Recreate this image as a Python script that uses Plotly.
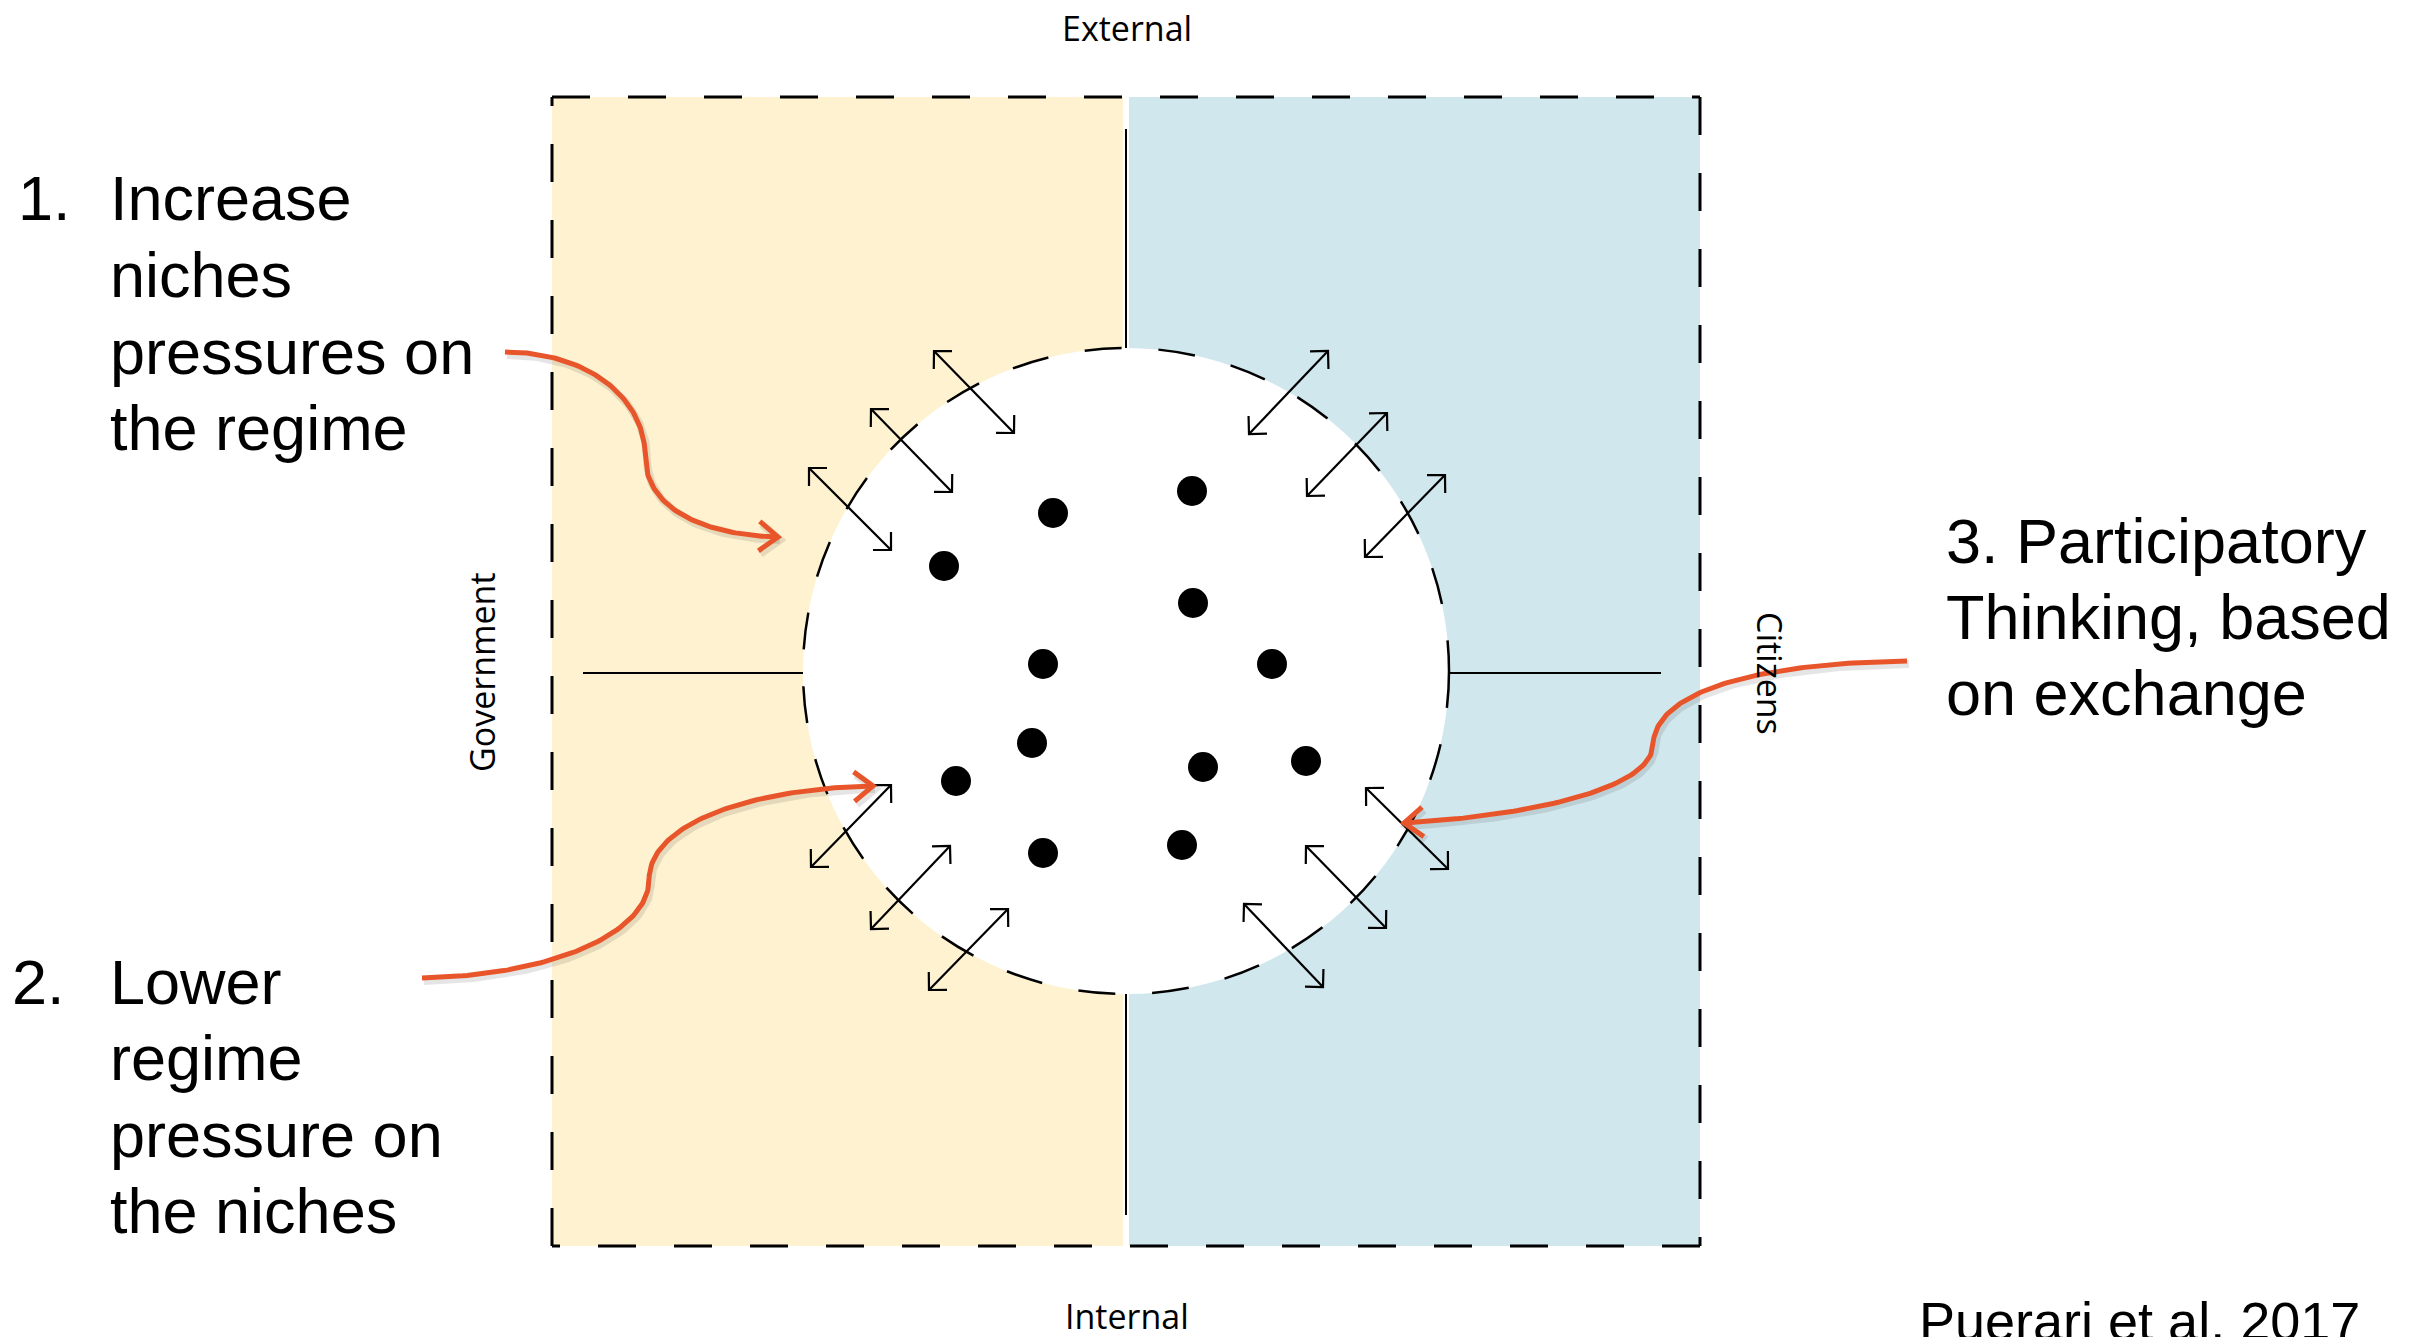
import numpy as np
import plotly.graph_objects as go

W, H = 2430, 1337
PAGE_OFFSET = 8  # browser body margin compensation

# ---- diagram geometry (pixel-like coordinates, y downward) ----
frame_x = [552, 1700]
frame_y = [97, 1246]
mid_x = 1126
circle_c = [1126, 671]
circle_r = 323
hline_y = 673
hline_left = [583, 803]
hline_right = [1449, 1661]
vline_top = [129, 348]
vline_bottom = [994, 1215]

# niches (dots)
dot_x = [1192, 1053, 944, 1193, 1043, 1272, 1032, 956, 1203, 1306, 1043, 1182]
dot_y = [491, 513, 566, 603, 664, 664, 743, 781, 767, 761, 853, 845]

# double-headed exchange arrows
dbl_x0 = [934, 871, 809, 1328, 1387, 1445, 891, 950, 1008, 1366, 1306, 1244]
dbl_y0 = [351, 409, 468, 351, 413, 475, 785, 846, 909, 788, 846, 904]
dbl_x1 = [1014, 952, 891, 1249, 1307, 1365, 811, 871, 929, 1448, 1386, 1323]
dbl_y1 = [433, 492, 550, 434, 496, 557, 867, 929, 990, 869, 928, 987]

# orange callout curves: two cubic segments each (P0,C1,C2,P1,C3,C4,P2)
curve1_x = [505, 590, 645, 645, 645, 705, 778]
curve1_y = [352, 352, 400, 455, 510, 535, 537]
curve2_x = [422, 560, 649, 649, 649, 760, 873]
curve2_y = [978, 975, 930, 880, 820, 788, 786]
curve3_x = [1907, 1760, 1655, 1653, 1651, 1500, 1404]
curve3_y = [661, 663, 690, 745, 795, 818, 823]

# texts
text1_lines = ["Increase", "niches", "pressures on", "the regime"]
text1_y = [198, 275, 352, 428]
text2_lines = ["Lower", "regime", "pressure on", "the niches"]
text2_y = [982, 1058, 1135, 1211]
text3_lines = ["3. Participatory", "Thinking, based", "on exchange"]
text3_y = [541, 617, 693]

YELLOW = "#FEF2D0"
BLUE = "#D1E7EE"
ORANGE = "#E9552A"
SANS = "Liberation Sans, Arial, sans-serif"
LABEL = "Open Sans, sans-serif"


def bezier(xs, ys, n=80):
    pts = []
    for s in range(0, len(xs) - 1, 3):
        p = np.array(list(zip(xs[s:s + 4], ys[s:s + 4])), dtype=float)
        t = np.linspace(0, 1, n)[:, None]
        seg = ((1 - t) ** 3) * p[0] + 3 * ((1 - t) ** 2) * t * p[1] + 3 * (1 - t) * t ** 2 * p[2] + t ** 3 * p[3]
        pts.append(seg if s == 0 else seg[1:])
    pts = np.vstack(pts)
    return pts[:, 0], pts[:, 1]


def chevron(tip, direction, length, ang_deg):
    d = np.asarray(direction, float)
    d = d / np.linalg.norm(d)
    out = []
    for sgn in (1, -1):
        a = np.radians(ang_deg) * sgn
        r = np.array([d[0] * np.cos(a) - d[1] * np.sin(a), d[0] * np.sin(a) + d[1] * np.cos(a)])
        out.append(np.asarray(tip) - length * r)
    return out


fig = go.Figure()

shapes = []
# coloured halves
shapes.append(dict(type="rect", x0=frame_x[0], x1=mid_x - 3, y0=frame_y[0], y1=frame_y[1],
                   fillcolor=YELLOW, line=dict(width=0), layer="below"))
shapes.append(dict(type="rect", x0=mid_x + 3, x1=frame_x[1], y0=frame_y[0], y1=frame_y[1],
                   fillcolor=BLUE, line=dict(width=0), layer="below"))
# dashed frame (four sides)
for (xa, ya, xb, yb) in [(frame_x[0], frame_y[0], frame_x[1], frame_y[0]),
                         (frame_x[1], frame_y[0], frame_x[1], frame_y[1]),
                         (frame_x[1], frame_y[1], frame_x[0], frame_y[1]),
                         (frame_x[0], frame_y[1], frame_x[0], frame_y[0])]:
    shapes.append(dict(type="line", x0=xa, y0=ya, x1=xb, y1=yb,
                       line=dict(color="black", width=3, dash="38px,38px"), layer="below"))
# solid divider lines
shapes.append(dict(type="line", x0=mid_x, x1=mid_x, y0=vline_top[0], y1=vline_top[1],
                   line=dict(color="black", width=2), layer="below"))
shapes.append(dict(type="line", x0=mid_x, x1=mid_x, y0=vline_bottom[0], y1=vline_bottom[1],
                   line=dict(color="black", width=2), layer="below"))
shapes.append(dict(type="line", x0=hline_left[0], x1=hline_left[1], y0=hline_y, y1=hline_y,
                   line=dict(color="black", width=2), layer="below"))
shapes.append(dict(type="line", x0=hline_right[0], x1=hline_right[1], y0=hline_y, y1=hline_y,
                   line=dict(color="black", width=2), layer="below"))
# central niche circle
shapes.append(dict(type="circle", x0=circle_c[0] - circle_r, x1=circle_c[0] + circle_r,
                   y0=circle_c[1] - circle_r, y1=circle_c[1] + circle_r,
                   fillcolor="white", line=dict(color="black", width=2.5, dash="37px,37px"),
                   layer="below"))

# double-headed arrows
ax, ay = [], []
for x0, y0, x1, y1 in zip(dbl_x0, dbl_y0, dbl_x1, dbl_y1):
    ax += [x0, x1, None]
    ay += [y0, y1, None]
    d = np.array([x1 - x0, y1 - y0], float)
    for tip, dr in (((x1, y1), d), ((x0, y0), -d)):
        a1, a2 = chevron(tip, dr, 18, 45)
        ax += [a1[0], tip[0], a2[0], None]
        ay += [a1[1], tip[1], a2[1], None]
fig.add_trace(go.Scatter(x=ax, y=ay, mode="lines", line=dict(color="black", width=2.2),
                         hoverinfo="skip", showlegend=False))

# dots
fig.add_trace(go.Scatter(x=dot_x, y=dot_y, mode="markers",
                         marker=dict(color="black", size=30, line=dict(width=0)),
                         hoverinfo="skip", showlegend=False))

# orange callouts
for cx, cy in ((curve1_x, curve1_y), (curve2_x, curve2_y), (curve3_x, curve3_y)):
    bx, by = bezier(cx, cy)
    tip = (bx[-1], by[-1])
    d = (bx[-1] - bx[-6], by[-1] - by[-6])
    a1, a2 = chevron(tip, d, 24, 38)
    hx = [a1[0], tip[0], a2[0]]
    hy = [a1[1], tip[1], a2[1]]
    # soft shadow
    fig.add_trace(go.Scatter(x=list(bx + 2) + [None] + [v + 2 for v in hx],
                             y=list(by + 3) + [None] + [v + 3 for v in hy],
                             mode="lines", line=dict(color="rgba(0,0,0,0.10)", width=8),
                             hoverinfo="skip", showlegend=False))
    fig.add_trace(go.Scatter(x=list(bx) + [None] + hx, y=list(by) + [None] + hy,
                             mode="lines", line=dict(color=ORANGE, width=5),
                             hoverinfo="skip", showlegend=False))

ann = []
def txt(x, y, s, size, font=SANS, xanchor="left", angle=0):
    ann.append(dict(x=x, y=y, xref="x", yref="y", text=s, showarrow=False,
                    xanchor=xanchor, yanchor="middle", textangle=angle,
                    font=dict(family=font, size=size, color="black")))

BIG = 63
txt(16, text1_y[0], "1.", BIG)
for s, y in zip(text1_lines, text1_y):
    txt(108, y, s, BIG)
txt(10, text2_y[0], "2.", BIG)
for s, y in zip(text2_lines, text2_y):
    txt(108, y, s, BIG)
for s, y in zip(text3_lines, text3_y):
    txt(1944, y, s, BIG)
txt(1917, 1321, "Puerari et al. 2017", 54)

txt(1127, 28, "External", 34, LABEL, "center")
txt(1127, 1316, "Internal", 34, LABEL, "center")
txt(482, 672, "Government", 34, LABEL, "center", -90)
txt(1770, 673, "Citizens", 34, LABEL, "center", 90)

fig.update_layout(
    width=W, height=H, autosize=False,
    margin=dict(l=0, r=0, t=0, b=0),
    paper_bgcolor="white", plot_bgcolor="white",
    shapes=shapes, annotations=ann,
    xaxis=dict(range=[PAGE_OFFSET, W + PAGE_OFFSET], visible=False, fixedrange=True),
    yaxis=dict(range=[H + PAGE_OFFSET, PAGE_OFFSET], visible=False, fixedrange=True),
    showlegend=False,
)

fig.write_html("out.html")
